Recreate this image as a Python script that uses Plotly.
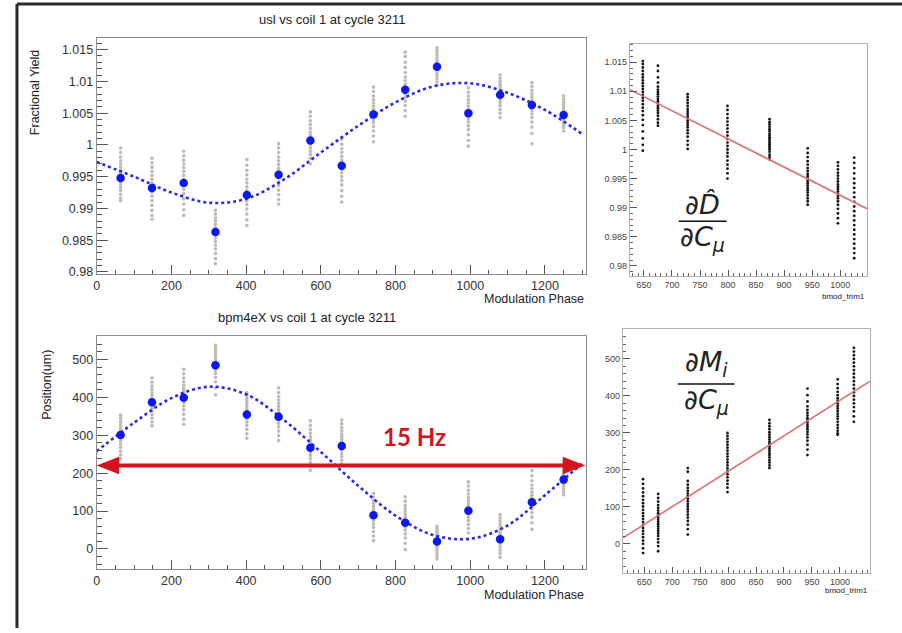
import plotly.graph_objects as go

W, H = 902, 633

# ---------------- modulation-phase data (left panels) ----------------
phase = [64, 148, 233, 318, 402, 487, 572, 656, 741, 826, 911, 995, 1080, 1165, 1250]

yield_mean = [0.9948, 0.9932, 0.9940, 0.9863, 0.9921, 0.9953, 1.0007, 0.9967,
              1.0048, 1.0087, 1.0123, 1.0050, 1.0079, 1.0063, 1.0047]

yield_samples = [
    [0.9995, 0.9988, 0.9981, 0.9975, 0.9970, 0.9965, 0.9960, 0.9955, 0.9950, 0.9946, 0.9942, 0.9938, 0.9933, 0.9928, 0.9922, 0.9916, 0.9912],
    [0.9979, 0.9972, 0.9965, 0.9958, 0.9952, 0.9946, 0.9940, 0.9935, 0.9930, 0.9925, 0.9919, 0.9912, 0.9905, 0.9897, 0.9889, 0.9883],
    [0.9990, 0.9983, 0.9976, 0.9970, 0.9964, 0.9958, 0.9952, 0.9946, 0.9941, 0.9936, 0.9930, 0.9923, 0.9915, 0.9907, 0.9898, 0.9889],
    [0.9897, 0.9891, 0.9885, 0.9880, 0.9875, 0.9870, 0.9866, 0.9862, 0.9858, 0.9853, 0.9848, 0.9842, 0.9836, 0.9829, 0.9821, 0.9813],
    [0.9977, 0.9968, 0.9960, 0.9953, 0.9946, 0.9940, 0.9934, 0.9928, 0.9923, 0.9918, 0.9912, 0.9906, 0.9899, 0.9891, 0.9882, 0.9873],
    [1.0002, 0.9995, 0.9988, 0.9981, 0.9975, 0.9969, 0.9963, 0.9958, 0.9953, 0.9948, 0.9942, 0.9936, 0.9929, 0.9922, 0.9914, 0.9907],
    [1.0052, 1.0045, 1.0038, 1.0032, 1.0026, 1.0020, 1.0015, 1.0010, 1.0005, 1.0000, 0.9995, 0.9990, 0.9985, 0.9979, 0.9970],
    [1.0009, 1.0001, 0.9994, 0.9988, 0.9982, 0.9976, 0.9971, 0.9966, 0.9961, 0.9956, 0.9950, 0.9944, 0.9937, 0.9928, 0.9919, 0.9910],
    [1.0091, 1.0084, 1.0077, 1.0071, 1.0066, 1.0061, 1.0056, 1.0052, 1.0048, 1.0044, 1.0040, 1.0035, 1.0029, 1.0022, 1.0014, 1.0005],
    [1.0146, 1.0139, 1.0130, 1.0122, 1.0114, 1.0107, 1.0101, 1.0095, 1.0090, 1.0085, 1.0080, 1.0075, 1.0069, 1.0062, 1.0054, 1.0045],
    [1.0153, 1.0149, 1.0145, 1.0141, 1.0137, 1.0133, 1.0129, 1.0125, 1.0121, 1.0117, 1.0113, 1.0109, 1.0104, 1.0099, 1.0094],
    [1.0090, 1.0083, 1.0077, 1.0071, 1.0066, 1.0061, 1.0056, 1.0051, 1.0046, 1.0041, 1.0036, 1.0030, 1.0024, 1.0016, 1.0007, 0.9998],
    [1.0110, 1.0105, 1.0100, 1.0095, 1.0091, 1.0087, 1.0083, 1.0079, 1.0075, 1.0071, 1.0067, 1.0062, 1.0056, 1.0050, 1.0043],
    [1.0098, 1.0092, 1.0086, 1.0081, 1.0076, 1.0071, 1.0066, 1.0062, 1.0058, 1.0054, 1.0049, 1.0043, 1.0036, 1.0028, 1.0018, 1.0002],
    [1.0077, 1.0072, 1.0067, 1.0063, 1.0059, 1.0055, 1.0051, 1.0047, 1.0043, 1.0039, 1.0035, 1.0031, 1.0027, 1.0022],
]

fit_phase = [0, 100, 200, 300, 400, 500, 600, 700, 800, 900, 1000, 1100, 1200, 1300]
yield_fit = [0.9973, 0.9950, 0.9925, 0.9909, 0.9915, 0.9945, 0.9988, 1.0030,
             1.0067, 1.0092, 1.0097, 1.0082, 1.0055, 1.0017]

pos_mean = [301, 387, 399, 485, 355, 349, 267, 272, 89, 69, 20, 101, 26, 123, 183]

pos_samples = [
    [353, 345, 337, 330, 323, 316, 310, 304, 298, 292, 285, 277, 268, 258, 248, 238],
    [451, 440, 430, 421, 412, 404, 397, 390, 384, 378, 371, 363, 354, 345, 335, 325],
    [474, 462, 451, 441, 432, 423, 415, 408, 401, 394, 386, 377, 367, 355, 342, 329],
    [537, 530, 523, 516, 509, 502, 496, 490, 484, 478, 471, 463, 453, 441, 425, 407],
    [413, 405, 397, 390, 383, 376, 369, 362, 356, 350, 343, 335, 326, 316, 304, 292],
    [425, 413, 402, 393, 384, 376, 368, 361, 354, 347, 340, 332, 322, 311, 299, 286],
    [338, 326, 315, 305, 296, 288, 281, 274, 268, 262, 255, 247, 238, 228, 218, 208],
    [340, 330, 320, 312, 304, 297, 290, 284, 278, 272, 266, 259, 251, 243, 234, 225],
    [147, 137, 128, 120, 112, 105, 99, 93, 87, 81, 74, 66, 57, 46, 34, 22],
    [138, 126, 115, 106, 98, 91, 84, 77, 71, 65, 58, 50, 40, 29, 15, -2],
    [60, 54, 48, 42, 37, 32, 27, 22, 18, 13, 8, 2, -5, -12, -19, -26],
    [177, 166, 155, 145, 136, 128, 120, 113, 106, 99, 92, 84, 75, 65, 54, 43],
    [91, 82, 74, 66, 59, 52, 45, 39, 33, 27, 21, 14, 6, -3, -12, -22],
    [207, 193, 180, 169, 159, 150, 142, 135, 128, 121, 114, 106, 96, 84, 69, 52],
    [234, 227, 221, 215, 209, 204, 199, 194, 189, 184, 179, 173, 166, 159, 151, 143],
]

pos_fit = [258, 333, 398, 428, 408, 341, 256, 167, 88, 37, 27, 62, 142, 226]

# ---------------- trim-current data (right panels) ----------------
trim = [648, 675, 728, 799, 874, 942, 996, 1025]

trim_yield = [
    [1.0152, 1.0147, 1.0141, 1.0135, 1.0129, 1.0124, 1.0119, 1.0114, 1.0109, 1.0104, 1.0099, 1.0094, 1.0089, 1.0084, 1.0078, 1.0072, 1.0066, 1.0059, 1.0051, 1.0042, 1.0031, 1.0019, 1.0008, 0.9998],
    [1.0144, 1.0135, 1.0124, 1.0115, 1.0108, 1.0103, 1.0099, 1.0095, 1.0091, 1.0087, 1.0083, 1.0079, 1.0075, 1.0071, 1.0067, 1.0063, 1.0058, 1.0052, 1.0046, 1.0041],
    [1.0095, 1.0090, 1.0085, 1.0080, 1.0075, 1.0070, 1.0066, 1.0062, 1.0058, 1.0054, 1.0050, 1.0046, 1.0042, 1.0038, 1.0033, 1.0028, 1.0022, 1.0015, 1.0008, 1.0001],
    [1.0075, 1.0068, 1.0061, 1.0054, 1.0048, 1.0042, 1.0036, 1.0030, 1.0024, 1.0018, 1.0012, 1.0006, 1.0000, 0.9994, 0.9988, 0.9981, 0.9974, 0.9967, 0.9959, 0.9950],
    [1.0052, 1.0047, 1.0043, 1.0039, 1.0035, 1.0031, 1.0027, 1.0024, 1.0021, 1.0018, 1.0015, 1.0012, 1.0009, 1.0006, 1.0003, 1.0000, 0.9996, 0.9991, 0.9987, 0.9983],
    [1.0002, 0.9994, 0.9987, 0.9980, 0.9974, 0.9968, 0.9963, 0.9958, 0.9954, 0.9950, 0.9946, 0.9942, 0.9938, 0.9934, 0.9930, 0.9926, 0.9921, 0.9916, 0.9911, 0.9905],
    [0.9978, 0.9972, 0.9966, 0.9960, 0.9955, 0.9950, 0.9945, 0.9940, 0.9936, 0.9932, 0.9928, 0.9924, 0.9920, 0.9916, 0.9911, 0.9905, 0.9898, 0.9890, 0.9882, 0.9873],
    [0.9986, 0.9977, 0.9968, 0.9959, 0.9950, 0.9942, 0.9934, 0.9926, 0.9918, 0.9910, 0.9902, 0.9894, 0.9886, 0.9878, 0.9870, 0.9862, 0.9854, 0.9846, 0.9838, 0.9830, 0.9822, 0.9813],
]

trim_pos = [
    [175, 162, 150, 139, 129, 119, 110, 101, 92, 83, 75, 67, 59, 51, 43, 35, 27, 18, 9, 0, -12, -25],
    [135, 124, 114, 105, 97, 90, 83, 77, 71, 65, 59, 53, 47, 41, 35, 28, 21, 13, 4, -6, -20],
    [205, 195, 170, 160, 151, 143, 136, 129, 122, 115, 108, 101, 94, 87, 79, 71, 62, 52, 40, 25],
    [300, 292, 284, 276, 268, 260, 252, 244, 236, 228, 220, 212, 204, 196, 188, 180, 171, 162, 152, 140],
    [335, 326, 318, 310, 302, 295, 288, 282, 276, 270, 264, 258, 252, 246, 240, 234, 227, 220, 212, 205],
    [420, 402, 385, 372, 362, 354, 347, 340, 334, 328, 322, 316, 310, 303, 296, 288, 279, 268, 255, 240],
    [445, 432, 421, 411, 402, 394, 387, 380, 373, 366, 359, 352, 345, 338, 330, 322, 314, 306, 299, 295],
    [530, 520, 510, 500, 490, 480, 470, 460, 450, 440, 430, 420, 410, 400, 390, 380, 370, 358, 345, 330],
]

fit_trim_yield = [625, 1048]
fit_yield_line = [1.0103, 0.9898]
fit_trim_pos = [612, 1054]
fit_pos_line = [16, 440]

# tick labels
yield_ticks = [0.98, 0.985, 0.99, 0.995, 1.0, 1.005, 1.01, 1.015]
yield_ticktext = ["0.98", "0.985", "0.99", "0.995", "1", "1.005", "1.01", "1.015"]
phase_ticks = [0, 200, 400, 600, 800, 1000, 1200]
pos_ticks = [0, 100, 200, 300, 400, 500]
trim_ticks = [650, 700, 750, 800, 850, 900, 950, 1000]

GRAY = "#c2bab0"
BLUE = "#0b18ee"
FONT = "Liberation Sans"


def fx(p):
    return p / W


def fy(p):
    return 1 - p / H


fig = go.Figure()


def flat(xs, groups):
    X, Y = [], []
    for x, g in zip(xs, groups):
        X += [x] * len(g)
        Y += g
    return X, Y


# left panels: sample clouds, fitted curve, phase means
for ax, samples, fit, means in [("", yield_samples, yield_fit, yield_mean),
                                 ("2", pos_samples, pos_fit, pos_mean)]:
    X, Y = flat(phase, samples)
    fig.add_trace(go.Scatter(x=X, y=Y, mode="markers", xaxis="x" + ax, yaxis="y" + ax,
                             marker=dict(size=3.6, color=GRAY), hoverinfo="skip"))
    fig.add_trace(go.Scatter(x=fit_phase, y=fit, mode="lines", xaxis="x" + ax, yaxis="y" + ax,
                             line=dict(color="#2a2ae0", width=2.6, dash="dot", shape="spline"),
                             hoverinfo="skip"))
    fig.add_trace(go.Scatter(x=phase, y=means, mode="markers", xaxis="x" + ax, yaxis="y" + ax,
                             marker=dict(size=8.5, color=BLUE), hoverinfo="skip"))

# right panels: correlation strips and linear fits
for ax, groups, fx_, fy_ in [("3", trim_yield, fit_trim_yield, fit_yield_line),
                             ("4", trim_pos, fit_trim_pos, fit_pos_line)]:
    X, Y = flat(trim, groups)
    fig.add_trace(go.Scatter(x=X, y=Y, mode="markers", xaxis="x" + ax, yaxis="y" + ax,
                             marker=dict(size=2.8, color="#151515"), hoverinfo="skip"))
    fig.add_trace(go.Scatter(x=fx_, y=fy_, mode="lines", xaxis="x" + ax, yaxis="y" + ax,
                             line=dict(color="#e07070", width=1.6), hoverinfo="skip"))

axis_common = dict(showline=True, mirror=True, linecolor="#8c8c8c", linewidth=1,
                   ticks="inside", tickcolor="#555", showgrid=False, zeroline=False,
                   fixedrange=True)

left_font = dict(family=FONT, size=12.5, color="#333")
right_font = dict(family=FONT, size=9, color="#444")

fig.update_layout(
    width=W, height=H, margin=dict(l=0, r=0, t=0, b=0),
    paper_bgcolor="white", plot_bgcolor="white", showlegend=False,
    xaxis=dict(axis_common, domain=[fx(94), fx(585)], range=[0, 1310], anchor="y",
               tickvals=phase_ticks, ticklen=9, tickfont=left_font,
               minor=dict(ticks="inside", ticklen=4, dtick=50, tickcolor="#555")),
    yaxis=dict(axis_common, domain=[fy(276), fy(38.5)], range=[0.9797, 1.0168], anchor="x",
               tickvals=yield_ticks, ticktext=yield_ticktext, ticklen=11, tickfont=left_font,
               minor=dict(ticks="inside", ticklen=5, dtick=0.001, tickcolor="#555")),
    xaxis2=dict(axis_common, domain=[fx(94), fx(585)], range=[0, 1310], anchor="y2",
                tickvals=phase_ticks, ticklen=9, tickfont=left_font,
                minor=dict(ticks="inside", ticklen=4, dtick=50, tickcolor="#555")),
    yaxis2=dict(axis_common, domain=[fy(574), fy(339)], range=[-54, 561], anchor="x2",
                tickvals=pos_ticks, ticklen=11, tickfont=left_font,
                minor=dict(ticks="inside", ticklen=5, dtick=20, tickcolor="#555")),
    xaxis3=dict(axis_common, domain=[fx(629), fx(867)], range=[625, 1048], anchor="y3",
                tickvals=trim_ticks, ticklen=6, tickfont=right_font, linecolor="#b0b0b0",
                minor=dict(ticks="inside", ticklen=3, dtick=10, tickcolor="#666")),
    yaxis3=dict(axis_common, domain=[fy(278.5), fy(44)], range=[0.9782, 1.0182], anchor="x3",
                tickvals=yield_ticks, ticktext=yield_ticktext, ticklen=7, tickfont=right_font,
                linecolor="#b0b0b0",
                minor=dict(ticks="inside", ticklen=3, dtick=0.001, tickcolor="#666")),
    xaxis4=dict(axis_common, domain=[fx(622), fx(870)], range=[612, 1054], anchor="y4",
                tickvals=trim_ticks, ticklen=6, tickfont=right_font, linecolor="#b0b0b0",
                minor=dict(ticks="inside", ticklen=3, dtick=10, tickcolor="#666")),
    yaxis4=dict(axis_common, domain=[fy(578), fy(332)], range=[-80, 580], anchor="x4",
                tickvals=pos_ticks, ticklen=7, tickfont=right_font, linecolor="#b0b0b0",
                minor=dict(ticks="inside", ticklen=3, dtick=20, tickcolor="#666")),
)


def note(text, x, y, size=13, color="#222", xanchor="center", angle=0, family=FONT):
    fig.add_annotation(text=text, x=fx(x), y=fy(y), xref="paper", yref="paper",
                       showarrow=False, xanchor=xanchor, yanchor="middle", textangle=angle,
                       font=dict(family=family, size=size, color=color))


note("usl vs coil 1 at cycle 3211", 330, 20, size=13)
note("bpm4eX vs coil 1 at cycle 3211", 305, 320, size=13)
note("Modulation Phase", 585, 301, size=12.5, xanchor="right")
note("Modulation Phase", 585, 600, size=12.5, xanchor="right")
note("Fractional Yield", 32, 93, size=12.5, angle=-90)
note("Position(um)", 44, 388, size=12.5, angle=-90)
note("bmod_trim1", 867, 299, size=8, xanchor="right")
note("bmod_trim1", 870, 595, size=8, xanchor="right")

# partial-derivative labels on the correlation panels
MATH = "DejaVu Sans"
note("∂<i>D̂</i>", 702, 206, size=27, family=MATH)
note("∂<i>C<sub>μ</sub></i>", 702, 240, size=27, family=MATH)
note("∂<i>M<sub>i</sub></i>", 706, 366, size=27, family=MATH)
note("∂<i>C<sub>μ</sub></i>", 706, 405, size=27, family=MATH)
fig.add_shape(type="line", xref="paper", yref="paper", x0=fx(678), x1=fx(726),
              y0=fy(223), y1=fy(223), line=dict(color="#111", width=1.5))
fig.add_shape(type="line", xref="paper", yref="paper", x0=fx(677), x1=fx(734),
              y0=fy(387), y1=fy(387), line=dict(color="#111", width=1.5))

# 15 Hz period arrow on the position panel
RED = "#d3141c"
ARROW_Y = 220
fig.add_shape(type="line", xref="x2", yref="y2", x0=40, x1=1270, y0=ARROW_Y, y1=ARROW_Y,
              line=dict(color=RED, width=4))
fig.add_shape(type="path", xref="x2", yref="y2",
              path=f"M 0 {ARROW_Y} L 60 {ARROW_Y + 23} L 60 {ARROW_Y - 23} Z",
              fillcolor=RED, line=dict(color=RED, width=0))
fig.add_shape(type="path", xref="x2", yref="y2",
              path=f"M 1308 {ARROW_Y} L 1248 {ARROW_Y + 23} L 1248 {ARROW_Y - 23} Z",
              fillcolor=RED, line=dict(color=RED, width=0))
fig.add_annotation(text="<b>15 Hz</b>", x=850, y=298, xref="x2", yref="y2", showarrow=False,
                   font=dict(family="Lato", size=24, color=RED))

# outer frame (top and left edges)
fig.add_shape(type="line", xref="paper", yref="paper", x0=fx(14), x1=1, y0=fy(4), y1=fy(4),
              line=dict(color="#2a2a2a", width=3))
fig.add_shape(type="line", xref="paper", yref="paper", x0=fx(14), x1=fx(14), y0=0, y1=fy(4),
              line=dict(color="#2a2a2a", width=3))

fig.write_html("out.html")
